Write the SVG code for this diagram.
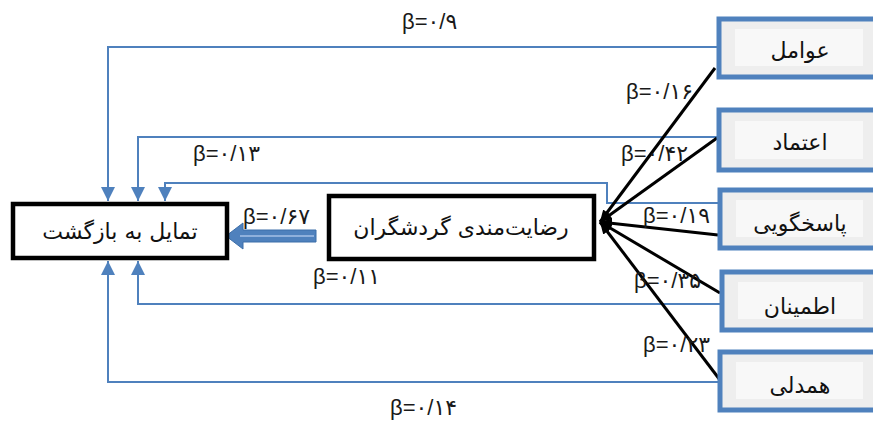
<svg xmlns="http://www.w3.org/2000/svg" width="873" height="423" viewBox="0 0 873 423">
<style>
.fa{font-family:"DejaVu Sans",sans-serif;font-size:22px;fill:#111;text-anchor:middle}
.lb{font-family:"Liberation Sans","DejaVu Sans",sans-serif;font-size:22px;fill:#1a1a1a}
.bl{fill:none;stroke:#4f81bd;stroke-width:2}
.bk{fill:none;stroke:#000;stroke-width:3}
.rb{fill:#eeeeee;stroke:#4f81bd;stroke-width:5}
.ri{fill:#f8f8f8;stroke:none}
.nb{fill:#fff;stroke:#000;stroke-width:4.5}
</style>
<defs>
<marker id="ab" markerUnits="userSpaceOnUse" markerWidth="16" markerHeight="16" refX="14" refY="7" orient="auto">
<path d="M0,0 L14,7 L0,14 Z" fill="#4f81bd"/>
</marker>
<marker id="ak" markerUnits="userSpaceOnUse" markerWidth="14" markerHeight="12" refX="12" refY="5" orient="auto">
<path d="M0,0 L12,5 L0,10 Z" fill="#000"/>
</marker>
</defs>
<rect width="873" height="423" fill="#fff"/>
<g id="connectors">
<path class="bl" d="M719,47 H108 V201" marker-end="url(#ab)"/>
<path class="bl" d="M719,137 H138 V201" marker-end="url(#ab)"/>
<path class="bl" d="M719,203 H607 V183 H165 V201" marker-end="url(#ab)"/>
<path class="bl" d="M722,304 H138 V261" marker-end="url(#ab)"/>
<path class="bl" d="M722,382 H108 V261" marker-end="url(#ab)"/>
<line class="bk" x1="715" y1="68" x2="600" y2="222" marker-end="url(#ak)"/>
<line class="bk" x1="717" y1="138" x2="600" y2="222" marker-end="url(#ak)"/>
<line class="bk" x1="718" y1="235" x2="600" y2="222" marker-end="url(#ak)"/>
<line class="bk" x1="720" y1="293" x2="600" y2="222" marker-end="url(#ak)"/>
<line class="bk" x1="720" y1="380" x2="600" y2="222" marker-end="url(#ak)"/>
<path d="M316,230 H243 V223 L226,236 L243,249 V242 H316 Z" fill="#4f81bd" stroke="#3d6fa9" stroke-width="1"/>
<line x1="240" y1="236" x2="314" y2="236" stroke="#8fb0dc" stroke-width="2"/>
</g>
<g id="labels">
<text class="lb" x="402" y="29">β=۰/۹</text>
<text class="lb" x="626" y="99">β=۰/۱۶</text>
<text class="lb" x="193" y="161">β=۰/۱۳</text>
<text class="lb" x="621" y="161">β=۰/۴۲</text>
<text class="lb" x="643" y="223">β=۰/۱۹</text>
<text class="lb" x="243" y="224">β=۰/۶۷</text>
<text class="lb" x="313" y="284">β=۰/۱۱</text>
<text class="lb" x="634" y="288">β=۰/۳۵</text>
<text class="lb" x="643" y="352">β=۰/۲۳</text>
<text class="lb" x="390" y="415">β=۰/۱۴</text>
</g>
<g id="node-return">
<rect class="nb" x="13" y="204" width="214" height="54"/>
<text class="fa" x="120" y="239">تمایل به بازگشت</text>
</g>
<g id="node-satisfaction">
<rect class="nb" x="329" y="196" width="265" height="63"/>
<text class="fa" x="461" y="235">رضایت‌مندی گردشگران</text>
</g>
<g id="node-factors">
<rect class="rb" x="719" y="19" width="160" height="58"/>
<rect class="ri" x="735" y="29" width="128" height="37"/>
<text class="fa" x="800" y="58">عوامل</text>
</g>
<g id="node-trust">
<rect class="rb" x="719" y="110" width="160" height="60"/>
<rect class="ri" x="735" y="121" width="128" height="38"/>
<text class="fa" x="800" y="150">اعتماد</text>
</g>
<g id="node-responsiveness">
<rect class="rb" x="720" y="190" width="160" height="58"/>
<rect class="ri" x="736" y="200" width="127" height="37"/>
<text class="fa" x="800" y="231">پاسخگویی</text>
</g>
<g id="node-assurance">
<rect class="rb" x="722" y="272" width="160" height="58"/>
<rect class="ri" x="738" y="282" width="125" height="37"/>
<text class="fa" x="800" y="314">اطمینان</text>
</g>
<g id="node-empathy">
<rect class="rb" x="720" y="352" width="160" height="58"/>
<rect class="ri" x="736" y="362" width="127" height="37"/>
<text class="fa" x="800" y="393">همدلی</text>
</g>
</svg>
